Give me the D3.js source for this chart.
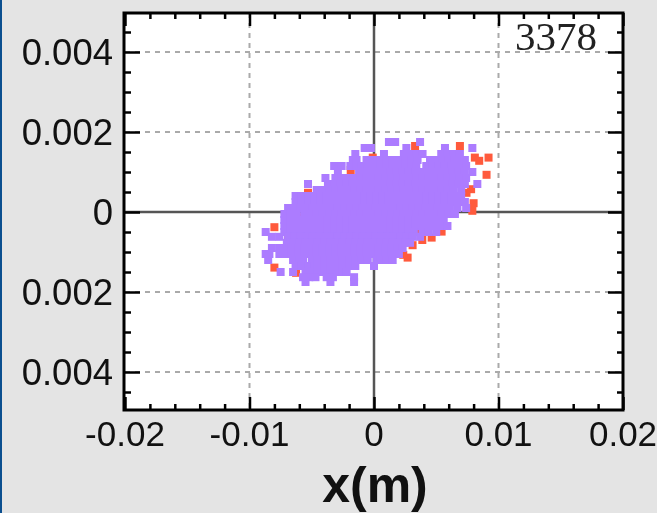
<!DOCTYPE html>
<html><head><meta charset="utf-8">
<script src="https://cdn.jsdelivr.net/npm/d3@7"></script>
<style>html,body{margin:0;padding:0;background:#e4e4e4;overflow:hidden}svg{display:block;filter:blur(0.5px)}</style>
</head><body><svg id="c" width="657" height="513"></svg>
<script>
const xMajor=[-0.02,-0.01,0,0.01,0.02];
const xLabels=["-0.02","-0.01","0","0.01","0.02"];
const xMinor=[-0.018,-0.016,-0.014,-0.012,-0.008,-0.006,-0.004,-0.002,0.002,0.004,0.006,0.008,0.012,0.014,0.016,0.018];
const yMajor=[0.004,0.002,0,-0.002,-0.004];
const yLabels=["0.004","0.002","0","0.002","0.004"];
const yMinor=[0.0045,0.0035,0.003,0.0025,0.0015,0.001,0.0005,-0.0005,-0.001,-0.0015,-0.0025,-0.003,-0.0035,-0.0045];
const xTitle="x(m)";
const runLabel="3378";
// points in millimetres: red population
const redPts=[[3.3,1.65],[6.9,1.65],[8.1,1.36],[8.45,1.28],[9.2,1.36],[9.04,.93],[-1.87,1.05],[-.1,1.36],[3.3,1.42],[4.84,.93],[6.36,.78],[7.8,.57],[7.43,.48],[8,.22],[7.9,.03],[-5.3,.48],[-5.9,-.13],[-8,-.38],[-6.9,-.59],[-8,-1.39],[-6.26,-1.52],[2.7,-1.14],[2.35,-1.07],[3.1,-.83],[3.88,-.7],[4.63,-.64],[3.5,-.5],[5.43,-.49],[4.1,-.27]];
// purple population, listed row by row as [y, [x...]]
const purpleRows=[
[1.75,[1.2,1.7,3.7]],
[1.6,[-.75,-.25,2.6,5.7,7.9]],
[1.45,[-1.5,.8,2.4,2.9,3.4,3.9,5.4,5.9,6.4,6.9]],
[1.3,[-1.7,-1.4,-.6,0,.5,1,1.5,2,2.5,3,3.5,4.5,5,5.5,6,6.5,7,7.3]],
[1.15,[-3.2,-2.6,-1.9,-1.4,-1,-.5,0,.5,1,1.5,2,2.5,3,3.4,4.2,4.7,5.2,5.7,6.2,6.7,7.2,7.4]],
[1,[-2.9,-1.2,-.7,-.2,.3,.8,1.3,1.8,2.3,2.8,3.3,3.8,4.3,4.8,5.3,5.8,6.3,6.8,7.3,7.9]],
[.85,[-3.9,-3.1,-2.6,-2.1,-1.6,-1.1,-.6,-.1,.4,.9,1.4,1.9,2.4,2.9,3.4,3.9,4.4,4.9,5.4,5.9,6.4,6.9,7.4]],
[.7,[-5.3,-3.7,-3.2,-2.7,-2.2,-1.7,-1.2,-.7,-.2,.3,.8,1.3,1.8,2.3,2.8,3.3,3.8,4.3,4.8,5.3,5.8,6.3,6.8,7.3,8.3]],
[.55,[-4.6,-4.1,-3.6,-3.1,-2.6,-2.1,-1.6,-1.1,-.6,-.1,.4,.9,1.4,1.9,2.4,2.9,3.4,3.9,4.4,4.9,5.4,5.9,6.4,7]],
[.4,[-6.3,-5.8,-5.3,-4.8,-4.3,-3.8,-3.3,-2.8,-2.3,-1.8,-1.3,-.8,-.3,.2,.7,1.2,1.7,2.2,2.7,3.2,3.7,4.2,4.7,5.2,5.7,6.2,6.7,7]],
[.25,[-6.3,-5.8,-5.3,-4.8,-4.3,-3.8,-3.3,-2.8,-2.3,-1.8,-1.3,-.8,-.3,.2,.7,1.2,1.7,2.2,2.7,3.2,3.7,4.2,4.7,5.2,5.7,6.2,6.7,7.3]],
[.1,[-6.9,-6.4,-5.9,-5.4,-4.9,-4.4,-3.9,-3.4,-2.9,-2.4,-1.9,-1.4,-.9,-.4,.1,.6,1.1,1.6,2.1,2.6,3.1,3.6,4.1,4.6,5.1,5.6,6.1,6.7,7.4]],
[-.05,[-7.2,-6.7,-6.2,-5.6,-5.1,-4.6,-4.1,-3.6,-3.1,-2.6,-2.1,-1.6,-1.1,-.6,-.1,.4,.9,1.4,1.9,2.4,2.9,3.4,3.9,4.4,4.9,5.4,6,6.5]],
[-.2,[-7.2,-6.7,-6.2,-5.7,-5.2,-4.7,-4.2,-3.7,-3.2,-2.7,-2.2,-1.7,-1.2,-.7,-.2,.3,.8,1.3,1.8,2.3,2.8,3.3,3.8,4.3,4.8,5.3,5.6]],
[-.35,[-7.2,-6.7,-6.2,-5.7,-5.2,-4.7,-4.2,-3.7,-3.2,-2.7,-2.2,-1.7,-1.2,-.7,-.2,.3,.8,1.3,1.8,2.3,2.8,3.3,3.8,4.3,4.8,5.3,5.9]],
[-.5,[-8.7,-7.2,-6.7,-6.2,-5.7,-5.2,-4.7,-4.2,-3.7,-3.2,-2.7,-2.2,-1.7,-1.2,-.7,-.2,.3,.8,1.3,1.8,2.3,2.8,3.2,3.9,4.4,5]],
[-.62,[-8.2,-7.6,-6.9,-6.4,-5.9,-5.4,-4.9,-4.4,-3.9,-3.4,-2.9,-2.4,-1.9,-1.4,-.9,-.4,.1,.6,1.1,1.6,2.1,2.6,3.1,3.7]],
[-.77,[-7,-6.5,-6,-5.5,-5,-4.5,-4,-3.5,-3,-2.5,-2,-1.5,-1,-.5,0,.5,1,1.5,2,2.5,2.9]],
[-.9,[-8.2,-7.6,-7.1,-6.6,-6.1,-5.6,-5.1,-4.6,-4.1,-3.6,-3.1,-2.6,-2.1,-1.6,-1.1,-.6,-.1,.4,.9,1.4,1.9,2.3]],
[-1.05,[-8.7,-8.4,-7.6,-7.1,-6.6,-6.1,-5.6,-5.1,-4.6,-4.1,-3.6,-3.1,-2.6,-2.1,-1.6,-1.1,-.6,-.1,.4,.9,1.4,2]],
[-1.2,[-8.5,-6.5,-6,-5.7,-5,-4.5,-4,-3.5,-3,-2.5,-2,-1.5,-1,-.5,.2,.5,1,1.5]],
[-1.35,[-6.3,-5.8,-5.3,-4.8,-4.5,-4,-3.5,-3,-2.5,-2,-1.5,0]],
[-1.5,[-7.5,-6.5,-5.5,-5,-4.5,-4,-3.5,-3,-2.5,-2.2]],
[-1.63,[-5.7,-5.2,-4.7,-3.8,-3.3,-1.6]],
[-1.75,[-5.5,-3.5,-1.6]]
];
const purplePts=purpleRows.flatMap(([y,xs])=>xs.map(x=>[x,y]));

const m={l:125,r:623,t:13,b:410};
const x=d3.scaleLinear().domain([-0.02,0.02]).range([m.l,m.r]);
const y=d3.scaleLinear().domain([-0.005,0.005]).range([412,12]);
const svg=d3.select("#c");
svg.append("rect").attr("width",657).attr("height",513).attr("fill","#e4e4e4");
svg.append("rect").attr("x",m.l).attr("y",m.t).attr("width",m.r-m.l).attr("height",m.b-m.t).attr("fill","#fff");

const grid=svg.append("g");
grid.selectAll(".gx").data(xMajor.slice(1,-1).filter(d=>d!==0)).join("line")
 .attr("x1",x).attr("x2",x).attr("y1",m.t).attr("y2",m.b)
 .attr("stroke","#aaa").attr("stroke-width",2).attr("stroke-dasharray","5 5");
grid.selectAll(".gy").data(yMajor.filter(d=>d!==0)).join("line").attr("class","gy")
 .attr("y1",y).attr("y2",y).attr("x1",m.l).attr("x2",m.r)
 .attr("stroke","#aaa").attr("stroke-width",2).attr("stroke-dasharray","5 5");
svg.append("line").attr("x1",x(0)).attr("x2",x(0)).attr("y1",m.t).attr("y2",m.b).attr("stroke","#555").attr("stroke-width",2.5);
svg.append("line").attr("y1",y(0)).attr("y2",y(0)).attr("x1",m.l).attr("x2",m.r).attr("stroke","#555").attr("stroke-width",2.5);

const S=8;
svg.append("g").selectAll("rect").data(redPts).join("rect")
 .attr("x",d=>x(d[0]/1000)-S/2).attr("y",d=>y(d[1]/1000)-S/2).attr("width",S).attr("height",S).attr("fill","#ff5a3c");
svg.append("g").selectAll("rect").data(purplePts).join("rect")
 .attr("x",d=>x(d[0]/1000)-S/2).attr("y",d=>y(d[1]/1000)-S/2).attr("width",S).attr("height",S).attr("fill","#ac7cff");

svg.append("text").attr("x",597).attr("y",50).attr("text-anchor","end")
 .attr("font-family","'Liberation Serif',serif").attr("font-size",41).attr("fill","#222").text(runLabel);

function style(g){g.select(".domain").remove();g.selectAll(".tick line").attr("stroke","#000").attr("stroke-width",2.5);}
function ax(gen,tx,vals,size){
 const g=svg.append("g").attr("transform",tx).call(gen.tickValues(vals).tickSize(size).tickFormat(""));
 style(g);
 return g;
}
// major and minor ticks on all four sides
ax(d3.axisBottom(x),`translate(0,${m.b})`,xMajor,-13);
ax(d3.axisBottom(x),`translate(0,${m.b})`,xMinor,-6);
ax(d3.axisTop(x),`translate(0,${m.t})`,xMajor,-13);
ax(d3.axisTop(x),`translate(0,${m.t})`,xMinor,-6);
ax(d3.axisLeft(y),`translate(${m.l},0)`,yMajor,-15);
ax(d3.axisLeft(y),`translate(${m.l},0)`,yMinor,-6);
ax(d3.axisRight(y),`translate(${m.r},0)`,yMajor,-15);
ax(d3.axisRight(y),`translate(${m.r},0)`,yMinor,-6);
svg.append("rect").attr("x",m.l-1).attr("y",m.t).attr("width",m.r-m.l+1).attr("height",m.b-m.t)
 .attr("fill","none").attr("stroke","#000").attr("stroke-width",3);

const lab=svg.append("g").attr("font-family","'Liberation Sans',Arial,sans-serif").attr("fill","#111");
lab.selectAll(".yl").data(yMajor).join("text").attr("text-anchor","end").attr("x",113).attr("y",d=>y(d)+13)
 .attr("font-size",36.5).text((d,i)=>yLabels[i]);
lab.selectAll(".xl").data(xMajor).join("text").attr("text-anchor","middle").attr("x",x).attr("y",446)
 .attr("font-size",35).text((d,i)=>xLabels[i]);
svg.append("text").attr("x",375).attr("y",502).attr("text-anchor","middle")
 .attr("font-family","'Liberation Sans',Arial,sans-serif").attr("font-weight","bold").attr("font-size",50).attr("fill","#111").text(xTitle);
// dark-blue window edge at the far left, outside the blur-sensitive plot area
svg.append("rect").attr("width",2).attr("height",513).attr("fill","#0b4f8f");
</script></body></html>
